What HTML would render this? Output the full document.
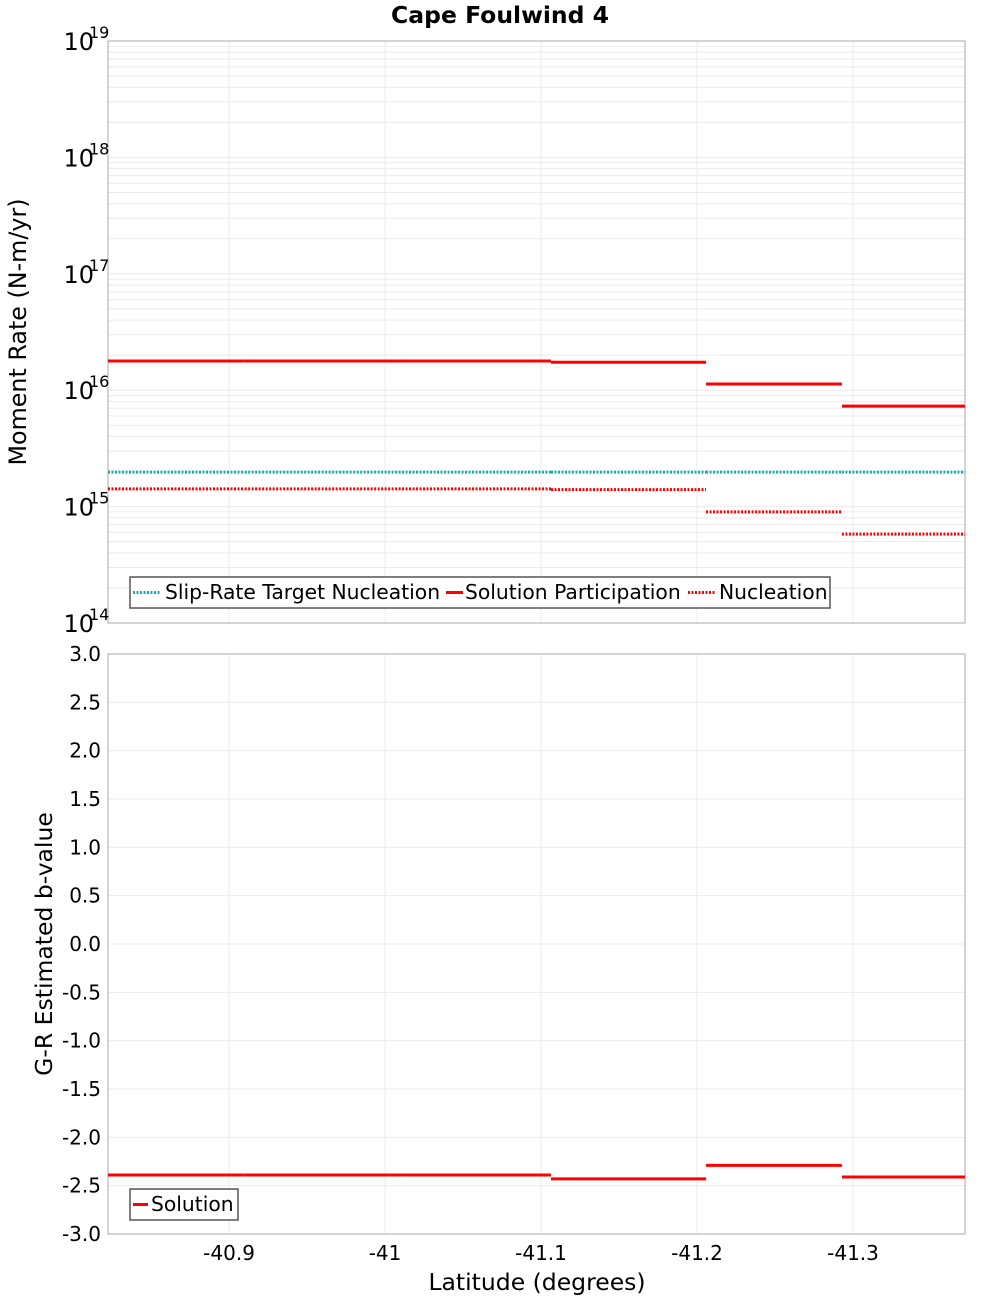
<!DOCTYPE html>
<html><head><meta charset="utf-8"><style>
body{margin:0;background:#fff;font-family:"DejaVu Sans","Liberation Sans",sans-serif}
svg text{font-family:"DejaVu Sans","Liberation Sans",sans-serif}
</style></head><body>
<svg id="c" width="1000" height="1300" xmlns="http://www.w3.org/2000/svg">
<text x="500" y="23" text-anchor="middle" font-size="23.5" font-weight="bold">Cape Foulwind 4</text>
<text transform="translate(26,332) rotate(-90)" text-anchor="middle" font-size="23.8">Moment Rate (N-m/yr)</text>
<text transform="translate(52,944) rotate(-90)" text-anchor="middle" font-size="23.5">G-R Estimated b-value</text>
<text x="537" y="1290" text-anchor="middle" font-size="23.5">Latitude (degrees)</text>
</svg>
<script>
const xTicks=[-40.9,-41,-41.1,-41.2,-41.3];
const xTickLabels=["-40.9","-41","-41.1","-41.2","-41.3"];
const bounds=[-40.8224,-40.910,-41.0109,-41.1064,-41.2058,-41.2929,-41.3718];
const participation=[1.78e16,1.78e16,1.78e16,1.74e16,1.13e16,7.3e15];
const nucleation=[1.42e15,1.42e15,1.42e15,1.40e15,9.0e14,5.8e14];
const target=[1.98e15,1.98e15,1.98e15,1.98e15,1.98e15,1.98e15];
const bValues=[-2.39,-2.39,-2.39,-2.43,-2.29,-2.41];
const bTicks=[3,2.5,2,1.5,1,0.5,0,-0.5,-1,-1.5,-2,-2.5,-3];
const logDecades=[14,15,16,17,18,19];

const svg=document.getElementById('c');
const NS='http://www.w3.org/2000/svg';
const L=108,R=965,T1=41,B1=623,T2=654,B2=1234;
const X=v=>L+(v-bounds[0])/(bounds[bounds.length-1]-bounds[0])*(R-L);
const Y1=v=>B1-(Math.log10(v)-14)/5*(B1-T1);
const Y2=v=>B2-(v+3)/6*(B2-T2);
function mk(tag,a,parent){const e=document.createElementNS(NS,tag);for(const k in a)e.setAttribute(k,a[k]);(parent||svg).appendChild(e);return e;}

[[T1,B1,'top'],[T2,B2,'bottom']].forEach(([t,b,n])=>{
  const g=mk('g',{});
  
  
  xTicks.forEach(v=>mk('line',{x1:X(v),x2:X(v),y1:t,y2:b,stroke:'#ebebeb','stroke-width':1},g));
});
const tg=mk('g',{});


for(let d=14;d<19;d++)for(let m=1;m<10;m++){const y=Y1(m*Math.pow(10,d));mk('line',{x1:L,x2:R,y1:y,y2:y,stroke:'#ebebeb','stroke-width':1},tg);}
const bg=mk('g',{});


bTicks.forEach(v=>mk('line',{x1:L,x2:R,y1:Y2(v),y2:Y2(v),stroke:'#ebebeb','stroke-width':1},bg));

const f1=mk('rect',{x:L,y:T1,width:R-L,height:B1-T1,fill:'none',stroke:'#aaa'});


const f2=mk('rect',{x:L,y:T2,width:R-L,height:B2-T2,fill:'none',stroke:'#aaa'});



logDecades.forEach(d=>{
  const y=Y1(Math.pow(10,d));
  const t=mk('text',{x:94,y:y+9,'text-anchor':'end','font-size':24});
  t.textContent='10';
  
  
  const s=mk('text',{x:89,y:y-3,'font-size':16});
  s.textContent=String(d);
  
  
});
bTicks.forEach(v=>{
  const t=mk('text',{x:101,y:Y2(v)+7,'text-anchor':'end','font-size':20});
  t.textContent=v.toFixed(1);
  
  
});
xTicks.forEach((v,i)=>{
  const t=mk('text',{x:X(v),y:1260,'text-anchor':'middle','font-size':20});
  t.textContent=xTickLabels[i];
  
  
});

function series(vals,Y,color,dash,name){
  const g=mk('g',{});
  
  
  vals.forEach((v,i)=>{
    const a={x1:X(bounds[i]),x2:X(bounds[i+1]),y1:Y(v),y2:Y(v),stroke:color,'stroke-width':3};
    if(dash)a['stroke-dasharray']='2,1.5';
    const l=mk('line',a,g);
    
    
  });
}
series(target,Y1,'#10b0b0',true,'slip-rate-target-nucleation');
series(participation,Y1,'#ff0000',false,'solution-participation');
series(nucleation,Y1,'#ff0000',true,'nucleation');
series(bValues,Y2,'#ff0000',false,'solution-b-value');

function legend(x,y,w,items,name){
  const g=mk('g',{});
  
  
  mk('rect',{x:x,y:y,width:w,height:31,fill:'#fff',stroke:'#555','stroke-width':1.5},g);
  items.forEach(([label,color,dash,lx1,lx2,tx])=>{
    const a={x1:lx1,x2:lx2,y1:y+15.5,y2:y+15.5,stroke:color,'stroke-width':3};
    if(dash)a['stroke-dasharray']='2,1.5';
    mk('line',a,g);
    const t=mk('text',{x:tx,y:y+22,'font-size':20.3},g);
    t.textContent=label;
    
    
  });
}
legend(130,577,700,[['Slip-Rate Target Nucleation','#10b0b0',true,133,161,165],['Solution Participation','#ff0000',false,446,463,465],['Nucleation','#ff0000',true,688,716,719]],'top-legend');
legend(130,1189,108,[['Solution','#ff0000',false,133,148,151]],'bottom-legend');
</script>
</body></html>
